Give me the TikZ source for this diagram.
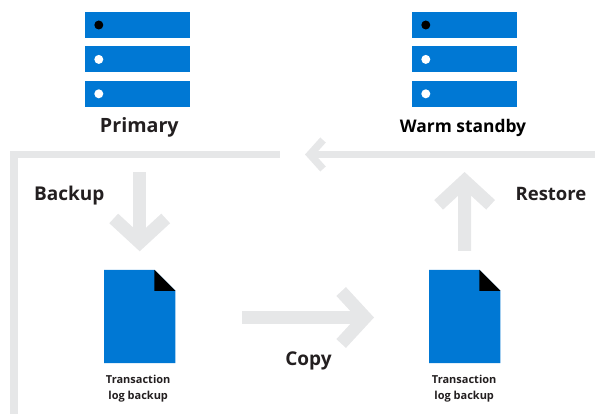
\documentclass[tikz,border=0pt]{standalone}
\usepackage{fontspec}
\setmainfont{Open Sans}
\usetikzlibrary{positioning,arrows.meta}
\definecolor{msblue}{HTML}{0078D4}
\definecolor{flowgray}{HTML}{E6E7E8}
\definecolor{labelblack}{HTML}{231F20}

\begin{document}
\begin{tikzpicture}[x=1pt,y=-1pt,
  serverbar/.style={fill=msblue,minimum width=105pt,minimum height=26pt,inner sep=0pt,node distance=8pt},
  led/.style={circle,fill=#1,minimum size=9pt,inner sep=0pt},
  docbox/.style={minimum width=71pt,minimum height=93pt,inner sep=0pt},
  biglabel/.style={font=\bfseries\fontsize{#1}{22}\selectfont,text=labelblack,inner sep=0pt,anchor=base},
  biglabel/.default=19,
  smalllabel/.style={font=\bfseries\fontsize{11}{16}\selectfont,text=labelblack,inner sep=0pt,align=center},
  bigarrow/.style={draw=flowgray,line width=13pt,-{Straight Barb[length=24pt,width=52pt]}},
  thinline/.style={draw=flowgray,line width=7.5pt}]
  \useasboundingbox (0,0) rectangle (595,414);

  % servers
  \node[serverbar] (primary1) at (137.5,25) {};
  \node[serverbar,below=of primary1] (primary2) {};
  \node[serverbar,below=of primary2] (primary3) {};
  \node[serverbar] (standby1) at (464.5,25) {};
  \node[serverbar,below=of standby1] (standby2) {};
  \node[serverbar,below=of standby2] (standby3) {};
  \foreach \srv in {primary,standby} {
    \node[led=black] (\srv led1) at ([xshift=14pt]\srv1.west) {};
    \node[led=white] (\srv led2) at ([xshift=14pt]\srv2.west) {};
    \node[led=white] (\srv led3) at ([xshift=14pt]\srv3.west) {};
  }
  \node[biglabel=19.7] (primarylabel) at (139.3,133) {Primary};
  \node[biglabel=17.4,text=black] (standbylabel) at (463,133) {Warm standby};

  % log files
  \node[docbox] (fileA) at (139.7,316.5) {};
  \node[docbox] (fileB) at (464.7,316.5) {};
  \foreach \doc in {fileA,fileB} {
    \fill[msblue] (\doc.north west) -- ([xshift=-21pt]\doc.north east) -- ([yshift=-21pt]\doc.north east)
      -- (\doc.south east) -- (\doc.south west) -- cycle;
    \fill[black] ([xshift=-21pt]\doc.north east) -- ([yshift=-21pt]\doc.north east)
      -- ([xshift=-21pt,yshift=-21pt]\doc.north east) -- cycle;
  }
  \node[smalllabel,below=11.5pt of fileA,xshift=-1.5pt] (fileAlabel) {Transaction\\log backup};
  \node[smalllabel,below=11.5pt of fileB,xshift=-0.5pt] (fileBlabel) {Transaction\\log backup};

  % flow
  \coordinate (cornerbottom) at (14,414);
  \coordinate (cornertop) at (14,154.5);
  \coordinate (cornerend) at (280,154.5);
  \coordinate (returnstart) at (595,154.5);
  \coordinate (returntip) at (305,154.5);
  \draw[thinline] (cornerbottom) -- (cornertop) -- (cornerend);
  \draw[thinline,-{Straight Barb[length=13pt,width=29pt]}] (returnstart) -- (returntip);
  \draw[bigarrow,shorten <=65pt,shorten >=18.5pt] (primary3.south -| fileA.north) -- (fileA.north);
  \draw[bigarrow,shorten <=19pt,shorten >=65pt] (fileB.north) -- (standby3.south);
  \draw[bigarrow,shorten <=67pt,shorten >=55pt] ([yshift=-1pt]fileA.east) -- ([yshift=-1pt]fileB.west);

  \node[biglabel] (backuplabel) at (69.3,201) {Backup};
  \node[biglabel=18.5] (restorelabel) at (551,201) {Restore};
  \node[biglabel] (copylabel) at (308.5,366) {Copy};
\end{tikzpicture}
\end{document}
